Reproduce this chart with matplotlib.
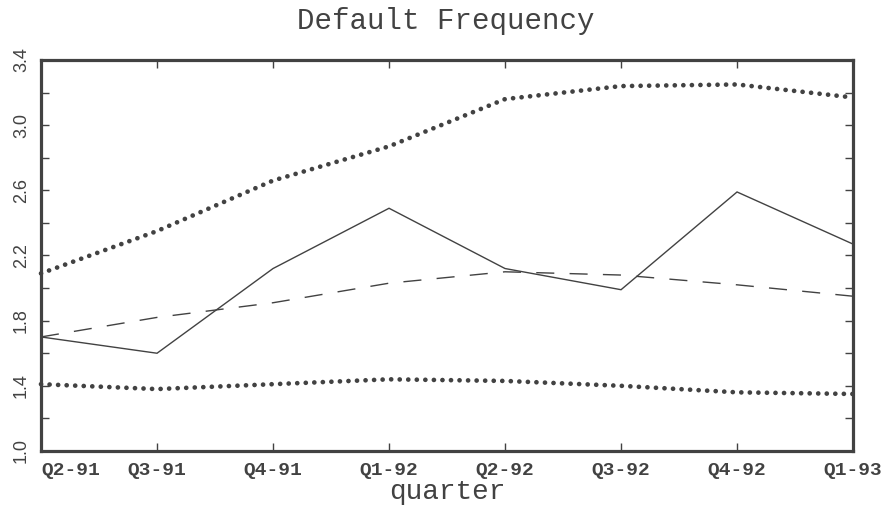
import matplotlib
matplotlib.use("Agg")
import matplotlib.pyplot as plt
from matplotlib.ticker import MultipleLocator

# values
quarters = ['Q2-91', 'Q3-91', 'Q4-91', 'Q1-92', 'Q2-92', 'Q3-92', 'Q4-92', 'Q1-93']
actual = [1.70, 1.60, 2.12, 2.49, 2.12, 1.99, 2.59, 2.27]
predicted = [1.70, 1.82, 1.91, 2.03, 2.10, 2.08, 2.02, 1.95]
upper = [2.09, 2.35, 2.66, 2.87, 3.16, 3.24, 3.25, 3.17]
lower = [1.41, 1.38, 1.41, 1.44, 1.43, 1.40, 1.36, 1.35]
yticks = [1.0, 1.4, 1.8, 2.2, 2.6, 3.0, 3.4]

ink = '#424242'
mono = 'Liberation Mono'

fig = plt.figure(figsize=(8.86, 5.13), dpi=100)
ax = fig.add_axes([0.0463, 0.1209, 0.9165, 0.7621])

x = list(range(len(quarters)))
ax.plot(x, actual, color=ink, lw=1.0, solid_joinstyle='miter')
ax.plot(x, predicted, color=ink, lw=1.0, linestyle=(0, (13, 11)))
for band in (upper, lower):
    ax.plot(x, band, color=ink, lw=3.4, linestyle=(0, (0.01, 1.8)),
            dash_capstyle='round', clip_on=False)

ax.set_xlim(0, len(quarters) - 1)
ax.set_xticks(x)
ax.set_xticklabels(quarters, fontfamily=mono, fontweight='bold', fontsize=14,
                   color=ink)
ax.get_xticklabels()[0].set_horizontalalignment('left')

ax.set_yticks(yticks)
ax.set_yticklabels(['%.1f' % v for v in yticks], rotation=90, va='center',
                   fontfamily='Liberation Sans', fontsize=13, color=ink)
ax.yaxis.set_minor_locator(MultipleLocator(0.2))
ax.set_ylim(1.0, 3.4)

ax.tick_params(axis='both', which='both', direction='in', top=True,
               right=True, length=6, width=1.0, color=ink)
ax.tick_params(axis='x', pad=8)
ax.tick_params(axis='y', pad=8)

for sp in ax.spines.values():
    sp.set_linewidth(2.3)
    sp.set_color(ink)

fig.text(0.503, 0.96, 'Default Frequency', ha='center', va='center',
         fontfamily=mono, fontsize=21, color=ink)
fig.text(0.505, 0.04, 'quarter', ha='center', va='center',
         fontfamily=mono, fontsize=20, color=ink)

fig.savefig('out.png', dpi=100)
